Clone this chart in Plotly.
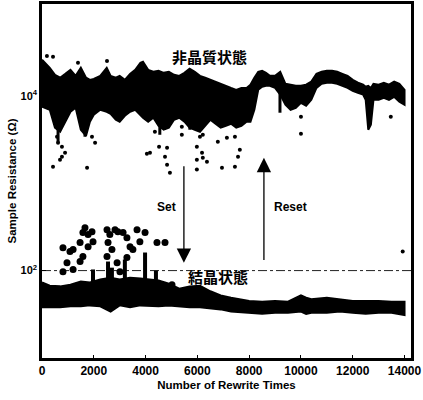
import numpy as np
import plotly.graph_objects as go

# ---------------- data ----------------
# amorphous (high-resistance) state: dense band envelope (Ohm)
amor_x = [0, 300, 500, 700, 900, 1100, 1300, 1500, 1700, 1850,
          2000, 2250, 2500, 2650, 2850, 3000, 3200, 3400, 3600, 3800,
          3900, 4100, 4300, 4500, 4700, 4900, 5100, 5300, 5500, 5700,
          5900, 6100, 6300, 6500, 6700, 6900, 7100, 7300, 7500, 7700,
          7900, 8050, 8200, 8350, 8500, 8650, 8800, 9000, 9200, 9400,
          9600, 9800, 10000, 10200, 10400, 10600, 10800, 11000, 11200, 11400,
          11600, 11800, 12000, 12200, 12400, 12500, 12600, 12700, 12800, 13000,
          13200, 13400, 13600, 13800, 14000]
amor_hi = [25800, 20900, 17400, 16100, 17800, 19800, 16900, 20900, 16100, 15200,
           15600, 16900, 20900, 16900, 16100, 16900, 15200, 17800, 19800, 23800,
           24500, 19800, 18800, 19300, 18300, 18800, 17400, 16900, 18300, 20400,
           18800, 16900, 16100, 15200, 14500, 13700, 13000, 12300, 11700, 12300,
           12300, 13400, 16100, 18800, 19300, 18300, 16900, 16900, 18800, 13700,
           13400, 13000, 13000, 13400, 14500, 17800, 18800, 19300, 19300, 18800,
           17800, 16900, 15200, 14100, 13400, 12700, 13000, 12300, 13700, 13400,
           14100, 13400, 14500, 13700, 11700]
amor_lo = [7480, 6920, 4310, 3880, 5050, 6560, 7290, 4090, 3490, 5050,
           6060, 6920, 6560, 6220, 5320, 5050, 5900, 6560, 6920, 6060,
           5610, 5050, 5610, 4540, 4090, 4310, 5320, 5610, 5050, 4310,
           4090, 3880, 4540, 5320, 4790, 4310, 4540, 4790, 4310, 4540,
           5050, 5050, 6920, 11700, 12700, 13000, 13000, 12300, 10300, 7890,
           6920, 7290, 8320, 7700, 9000, 12300, 13700, 14100, 14100, 13700,
           13000, 12300, 11400, 10800, 10300, 9000, 4090, 4670, 9000, 9000,
           9500, 9000, 9740, 8530, 7890]
# amorphous scattered points
amor_out_x = [190, 425, 1390, 2510, 425, 695, 770, 580, 620, 770, 890, 1740, 2050, 1930,
              4050, 4170, 4520, 4830, 4750, 4830, 4940, 4360, 5400, 5400, 5980, 5980,
              5980, 6180, 6210, 6370, 6100, 6210, 6790, 6950, 7140, 7450, 7450, 7570,
              7640, 10000, 10000, 13470]
amor_out_y = [28600, 27900, 23800, 25000, 1540, 1860, 2010, 3400, 2900, 2610, 2230, 1500, 2900, 3400,
              2170, 2230, 2610, 2550, 2010, 1630, 1320, 3880, 4430, 3580, 2610, 1860,
              1430, 2230, 1950, 1760, 3400, 3580, 2980, 1500, 3310, 3400, 1540, 2010,
              2420, 5750, 3680, 5750]
# amorphous downward streaks
amor_spike_x = [620, 1660, 4550, 5710, 9190]
amor_spike_lo = [2900, 3400, 3580, 4090, 6400]
amor_spike_hi = [6000, 6000, 6000, 6000, 12000]

# crystalline (low-resistance) state: dense band envelope (Ohm)
cry_x = [0, 300, 700, 1100, 1500, 1850, 2250, 2650, 3000, 3400,
         3800, 4100, 4500, 4900, 5300, 5700, 6100, 6500, 6900, 7300,
         7700, 8000, 8500, 9000, 9500, 10000, 10200, 10400, 11000, 11500,
         12000, 12500, 13000, 13500, 14000]
cry_hi = [73, 67, 66, 69, 75, 73, 79, 83, 79, 83,
          81, 79, 77, 71, 62, 66, 67, 58, 52, 49,
          47, 45, 44, 45, 44, 52, 49, 47, 49, 47,
          45, 45, 45, 44, 44]
cry_lo = [38, 38, 38, 39, 39, 40, 39, 34, 40, 38,
          40, 40, 39, 40, 39, 38, 38, 37, 36, 34,
          33, 33, 32, 33, 33, 34, 32, 33, 33, 34,
          33, 32, 33, 33, 31]
# crystalline scattered points
cry_out_x = [810, 1080, 1200, 1470, 1580, 1660, 1780, 1930, 1970, 1780, 1580, 1470, 965, 810,
             1200, 2510, 2620, 2820, 2930, 3130, 2550, 2700, 2510, 2900, 3010, 3280, 3400,
             3670, 3980, 3780, 3510, 3280, 4440, 4750, 5020]
cry_out_y = [183, 165, 174, 209, 272, 310, 258, 279, 214, 188, 145, 127, 123, 97,
             103, 294, 258, 294, 279, 272, 209, 174, 145, 123, 97, 238, 188,
             294, 272, 214, 174, 141, 209, 209, 69]
cry_lone_x = [13930]
cry_lone_y = [165]
# crystalline upward streaks
cry_spike_x = [1970, 2550, 2700, 3200, 3980, 4400]
cry_spike_hi = [103, 127, 108, 134, 161, 100]
cry_spike_lo = [60, 60, 60, 60, 60, 60]

ref_level = 100          # dash-dot reference line (Ohm)
x_ticks = [0, 2000, 4000, 6000, 8000, 10000, 12000, 14000]
x_ticktext = ["0", "2000", "4000", "6000", "8000", "10000", "12000", "14000"]
y_ticks = [100, 10000]
y_ticktext = ["10<sup>2</sup>", "10<sup>4</sup>"]

amor_label = "非晶質状態"
cry_label = "結晶状態"

# ---------------- figure ----------------
assert len(amor_x) == len(amor_hi) == len(amor_lo)
assert len(cry_x) == len(cry_hi) == len(cry_lo)

fig = go.Figure()

# reference line at 10^2
fig.add_trace(go.Scatter(x=[0, 14250], y=[ref_level, ref_level], mode="lines",
                         line=dict(color="#222", width=1, dash="dashdot"),
                         hoverinfo="skip"))

def band(x, hi, lo):
    return go.Scatter(x=list(x) + list(x)[::-1], y=list(hi) + list(lo)[::-1],
                      mode="lines", fill="toself", fillcolor="black",
                      line=dict(color="black", width=2, shape="linear"),
                      hoverinfo="skip")

def streaks(xs, lo, hi, w):
    xx, yy = [], []
    for a, b, c in zip(xs, lo, hi):
        xx += [a, a, None]
        yy += [b, c, None]
    return go.Scatter(x=xx, y=yy, mode="lines", line=dict(color="black", width=w),
                      hoverinfo="skip")

fig.add_trace(band(amor_x, amor_hi, amor_lo))
fig.add_trace(streaks(amor_spike_x, amor_spike_lo, amor_spike_hi, 3))
fig.add_trace(go.Scatter(x=amor_out_x, y=amor_out_y, mode="markers",
                         marker=dict(color="black", size=4)))

fig.add_trace(band(cry_x, cry_hi, cry_lo))
fig.add_trace(streaks(cry_spike_x, cry_spike_lo, cry_spike_hi, 4))
fig.add_trace(go.Scatter(x=cry_out_x, y=cry_out_y, mode="markers",
                         marker=dict(color="black", size=7)))
fig.add_trace(go.Scatter(x=cry_lone_x, y=cry_lone_y, mode="markers",
                         marker=dict(color="black", size=4)))

bold = dict(family="Liberation Sans, Arial", color="black", weight="bold")
cjk = dict(family="Noto Sans CJK JP", color="black", size=15, weight="bold")

annotations = [
    dict(x=6480, y=np.log10(27900), text=amor_label, showarrow=False, font=cjk),
    dict(x=6790, y=np.log10(85), text=cry_label, showarrow=False, font=cjk),
    dict(x=4820, y=np.log10(538), text="Set", showarrow=False, font=dict(bold, size=12)),
    dict(x=9610, y=np.log10(538), text="Reset", showarrow=False, font=dict(bold, size=12)),
    # Set arrow (down)
    dict(x=5480, y=np.log10(123), ax=5480, ay=np.log10(1630), xref="x", yref="y",
         axref="x", ayref="y", text="", showarrow=True, arrowhead=2, arrowsize=2.2,
         arrowwidth=1.3, arrowcolor="black"),
    # Reset arrow (up)
    dict(x=8570, y=np.log10(1950), ax=8570, ay=np.log10(127), xref="x", yref="y",
         axref="x", ayref="y", text="", showarrow=True, arrowhead=2, arrowsize=2.2,
         arrowwidth=1.3, arrowcolor="black"),
]

fig.update_layout(
    width=423, height=400,
    margin=dict(l=42, r=12, t=4, b=42),
    paper_bgcolor="white", plot_bgcolor="white",
    showlegend=False,
    annotations=annotations,
    xaxis=dict(range=[0, 14250], tickvals=x_ticks, ticktext=x_ticktext,
               ticks="inside", ticklen=3, automargin=False,
               tickcolor="black", showline=True, linewidth=2.5, linecolor="black",
               mirror=True, showgrid=False, zeroline=False,
               tickfont=dict(bold, size=12),
               title=dict(text="Number of Rewrite Times", font=dict(bold, size=11.5),
                          standoff=4)),
    yaxis=dict(type="log", range=[1.0, 5.05], tickvals=y_ticks, ticktext=y_ticktext,
               ticks="inside", ticklen=4, tickcolor="black", showline=True,
               automargin=False,
               linewidth=2.5, linecolor="black", mirror=True, showgrid=False,
               zeroline=False, tickfont=dict(bold, size=11),
               title=dict(text="Sample Resistance (Ω)", font=dict(bold, size=11.5),
                          standoff=2)),
)

fig.write_html("out.html", config={"displayModeBar": False},
               post_script="document.body.style.margin='0';document.body.style.overflow='hidden';")
